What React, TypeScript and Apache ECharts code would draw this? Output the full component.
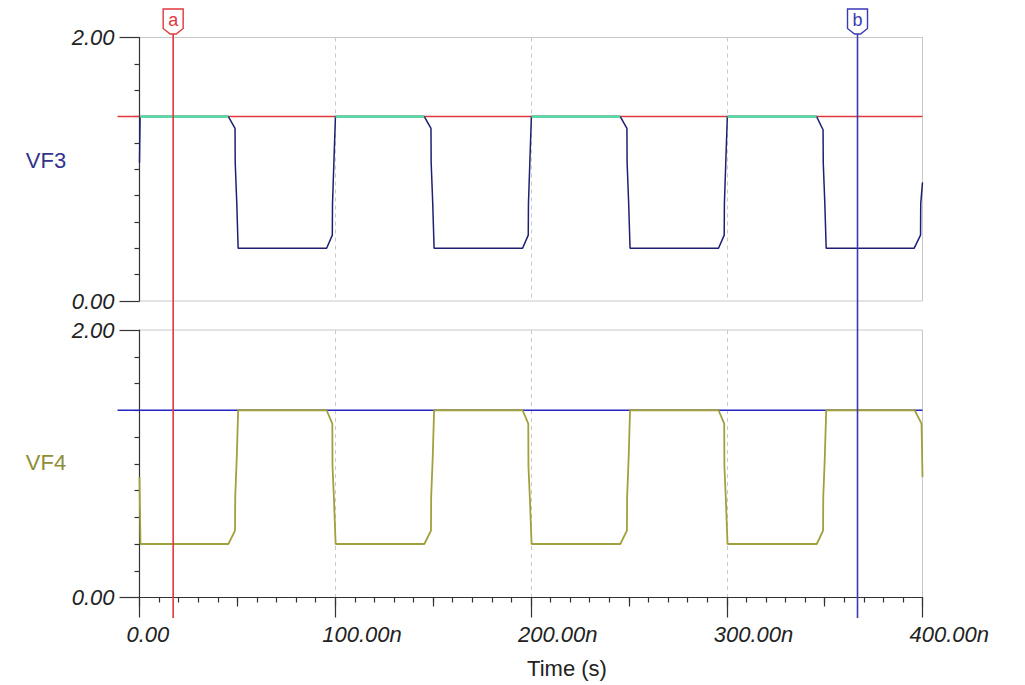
import React, { useEffect, useRef } from "react";
import * as echarts from "echarts";

// ---- data (time in ns, value in V) ----
const xTicks = [0, 100, 200, 300, 400];
const yTicks = [0, 2];

const vf3Time = [
  0, 0.3, 45.4, 48.8, 48.9, 49.7, 50.4, 95.6, 98.5, 98.6, 99.3, 100.1,
  145.5, 148.9, 149.0, 149.8, 150.5, 195.7, 198.6, 198.7, 199.4, 200.2,
  245.6, 249.0, 249.1, 249.9, 250.6, 295.8, 298.7, 298.8, 299.5, 300.3,
  345.9, 349.2, 349.3, 350.1, 350.8, 395.7, 399.0, 399.1, 400,
];
const vf3Value = [
  1.05, 1.4, 1.4, 1.31, 1.05, 0.74, 0.4, 0.4, 0.5, 0.74, 1.05, 1.4,
  1.4, 1.31, 1.05, 0.74, 0.4, 0.4, 0.5, 0.74, 1.05, 1.4,
  1.4, 1.31, 1.05, 0.74, 0.4, 0.4, 0.5, 0.74, 1.05, 1.4,
  1.4, 1.3, 1.05, 0.74, 0.4, 0.4, 0.5, 0.74, 0.9,
];

const vf4Time = [
  0, 0.5, 45.4, 48.8, 48.9, 49.7, 50.4, 95.6, 98.5, 98.6, 99.3, 100.2,
  145.5, 148.9, 149.0, 149.8, 150.5, 195.7, 198.6, 198.7, 199.4, 200.3,
  245.6, 249.0, 249.1, 249.9, 250.6, 295.8, 298.7, 298.8, 299.5, 300.4,
  346.0, 349.2, 349.3, 350.1, 350.8, 396.0, 399.5, 400,
];
const vf4Value = [
  0.9, 0.4, 0.4, 0.5, 0.75, 1.05, 1.4, 1.4, 1.3, 0.98, 0.75, 0.4,
  0.4, 0.5, 0.75, 1.05, 1.4, 1.4, 1.3, 0.98, 0.75, 0.4,
  0.4, 0.5, 0.75, 1.05, 1.4, 1.4, 1.3, 0.98, 0.75, 0.4,
  0.4, 0.5, 0.75, 1.05, 1.4, 1.4, 1.3, 0.9,
];

const levels = [1.4, 1.4]; // VF3 level, VF4 level
const cursorNames = ["a", "b"];
const cursorTimes = [17.2, 366.8];

// ---- styles ----
const FONT = "'Liberation Sans', Arial, sans-serif";
const NAVY = "#1e1e72";
const GREEN = "#4be3a4";
const RED = "#e0383c";
const OLIVE = "#a0a03c";
const BLUE = "#2424c4";
const CURSOR_COLORS = ["#e0383c", "#3a3ab4"];
const GRIDC = "#c8c8c8";
const AXISC = "#333333";

const fmtX = (v: number) => (v === 0 ? "0.00" : v.toFixed(2) + "n");
const fmtY = (v: number) => v.toFixed(2);

function pairs(t: number[], v: number[]) {
  return t.map((x, i) => [x, v[i]]);
}
function highOnly(t: number[], v: number[], level: number) {
  return t.map((x, i) => [x, v[i] >= level - 0.001 ? v[i] : null]);
}

export default function App() {
  const ref = useRef<HTMLDivElement>(null);
  useEffect(() => {
    const chart = echarts.init(ref.current!, null, { renderer: "svg" });
    const yAxisCommon = (gi: number) => ({
      type: "value",
      gridIndex: gi,
      min: yTicks[0],
      max: yTicks[yTicks.length - 1],
      interval: yTicks[1] - yTicks[0],
      axisLine: { show: true, onZero: false, lineStyle: { color: AXISC, width: 1.2 } },
      axisTick: { show: true, length: 20, lineStyle: { color: AXISC, width: 1.2 } },
      minorTick: { show: true, splitNumber: 10, length: 5, lineStyle: { color: AXISC, width: 1.2 } },
      axisLabel: {
        formatter: fmtY,
        margin: 25,
        fontFamily: FONT,
        fontStyle: "italic",
        fontSize: 22,
        color: "#222",
      },
      splitLine: { show: false },
      minorSplitLine: { show: false },
    });
    const xMin = xTicks[0];
    const xMax = xTicks[xTicks.length - 1];
    const xInt = xTicks[1] - xTicks[0];
    const option: any = {
      animation: false,
      backgroundColor: "#ffffff",
      grid: [
        { left: 139.5, top: 37.5, width: 783, height: 263.5, show: true, borderColor: GRIDC, borderWidth: 1 },
        { left: 139.5, top: 330, width: 783, height: 267.5, show: true, borderColor: GRIDC, borderWidth: 1 },
      ],
      xAxis: [
        {
          type: "value",
          gridIndex: 0,
          position: "bottom",
          min: xMin,
          max: xMax,
          interval: xInt,
          axisLine: { show: false },
          axisTick: { show: false },
          axisLabel: { show: false },
          splitLine: { show: true, lineStyle: { color: GRIDC, type: [4, 4], width: 1 } },
        },
        {
          type: "value",
          gridIndex: 1,
          position: "bottom",
          min: xMin,
          max: xMax,
          interval: xInt,
          axisLine: { show: true, onZero: false, lineStyle: { color: AXISC, width: 1.2 } },
          axisTick: { show: true, length: 20, lineStyle: { color: AXISC, width: 1.2 } },
          minorTick: { show: true, splitNumber: 10, length: 5, lineStyle: { color: AXISC, width: 1.2 } },
          axisLabel: {
            formatter: fmtX,
            margin: 26,
            align: "left",
            padding: [0, 0, 0, -13],
            fontFamily: FONT,
            fontStyle: "italic",
            fontSize: 22,
            color: "#222",
            showMinLabel: true,
            showMaxLabel: true,
          },
          splitLine: { show: true, lineStyle: { color: GRIDC, type: [4, 4], width: 1 } },
        },
        {
          type: "value",
          gridIndex: 1,
          position: "bottom",
          offset: 0,
          min: xMin,
          max: xMax,
          interval: xInt / 2,
          axisLine: { show: false, onZero: false },
          axisTick: { show: true, length: 9, lineStyle: { color: AXISC, width: 1.2 } },
          axisLabel: { show: false },
          splitLine: { show: false },
        },
      ],
      yAxis: [yAxisCommon(0), yAxisCommon(1)],
      series: [
        {
          name: "VF3",
          type: "line",
          xAxisIndex: 0,
          yAxisIndex: 0,
          data: pairs(vf3Time, vf3Value),
          showSymbol: false,
          symbol: "none",
          lineStyle: { color: NAVY, width: 1.5 },
          z: 3,
        },
        {
          name: "VF3 high",
          type: "line",
          xAxisIndex: 0,
          yAxisIndex: 0,
          data: highOnly(vf3Time, vf3Value, levels[0]),
          connectNulls: false,
          showSymbol: false,
          symbol: "none",
          lineStyle: { color: GREEN, width: 2.2 },
          z: 4,
        },
        {
          name: "VF4",
          type: "line",
          xAxisIndex: 1,
          yAxisIndex: 1,
          data: pairs(vf4Time, vf4Value),
          showSymbol: false,
          symbol: "none",
          lineStyle: { color: OLIVE, width: 1.8 },
          z: 3,
        },
      ],
    };
    chart.setOption(option);

    const g: any[] = [];
    const xLeft = chart.convertToPixel({ xAxisIndex: 1 }, xMin) as number;
    const xRight = chart.convertToPixel({ xAxisIndex: 1 }, xMax) as number;
    const levelColors = [RED, BLUE];
    levels.forEach((lv, i) => {
      const y = chart.convertToPixel({ yAxisIndex: i }, lv) as number;
      g.push({
        type: "line",
        z: 1,
        shape: { x1: xLeft - 22, y1: y, x2: xRight, y2: y },
        style: { stroke: levelColors[i], lineWidth: 1.6 },
      });
    });
    // trace names
    g.push({
      type: "text",
      x: 46,
      y: 160,
      style: { text: "VF3", font: `22px ${FONT}`, fill: "#33338c", align: "center", verticalAlign: "middle" },
    });
    g.push({
      type: "text",
      x: 46,
      y: 462,
      style: { text: "VF4", font: `22px ${FONT}`, fill: "#8e8e36", align: "center", verticalAlign: "middle" },
    });
    g.push({
      type: "text",
      x: 567,
      y: 668,
      style: { text: "Time (s)", font: `22px ${FONT}`, fill: "#222", align: "center", verticalAlign: "middle" },
    });
    // cursors
    cursorTimes.forEach((t, i) => {
      const x = chart.convertToPixel({ xAxisIndex: 1 }, t) as number;
      const c = CURSOR_COLORS[i];
      g.push({
        type: "line",
        z: 100,
        shape: { x1: x, y1: 34, x2: x, y2: 618 },
        style: { stroke: c, lineWidth: 1.6 },
      });
      g.push({
        type: "polygon",
        z: 101,
        shape: {
          points: [
            [x - 10, 9],
            [x + 10, 9],
            [x + 10, 28.5],
            [x + 3, 34],
            [x - 3, 34],
            [x - 10, 28.5],
          ],
        },
        style: { fill: "#ffffff", stroke: c, lineWidth: 1.4 },
      });
      g.push({
        type: "text",
        z: 102,
        x: x,
        y: 20,
        style: {
          text: cursorNames[i],
          font: `18px ${FONT}`,
          fill: c,
          align: "center",
          verticalAlign: "middle",
        },
      });
    });
    chart.setOption({ graphic: g });
    return () => chart.dispose();
  }, []);
  return (
    <div
      ref={ref}
      style={{ position: "fixed", left: 0, top: 0, width: 1025, height: 685, background: "#fff" }}
    />
  );
}
